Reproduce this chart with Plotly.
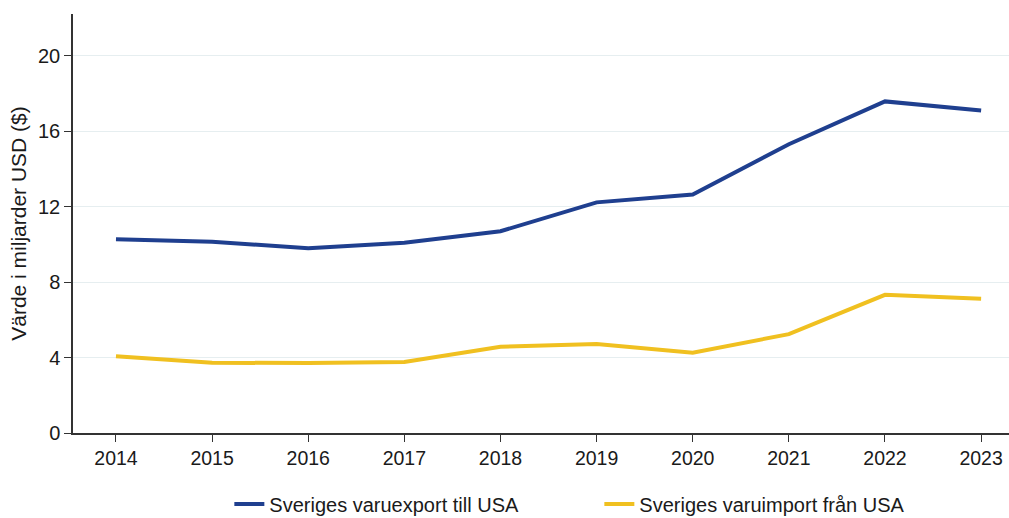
import plotly.graph_objects as go

years = [2014, 2015, 2016, 2017, 2018, 2019, 2020, 2021, 2022, 2023]
export_usa = [10.27, 10.13, 9.79, 10.08, 10.69, 12.22, 12.64, 15.3, 17.57, 17.09]
import_usa = [4.07, 3.72, 3.71, 3.76, 4.57, 4.71, 4.25, 5.24, 7.32, 7.11]

fig = go.Figure()
fig.add_trace(go.Scatter(x=years, y=export_usa, mode="lines",
                         name="Sveriges varuexport till USA",
                         line=dict(color="#1f3f8f", width=4)))
fig.add_trace(go.Scatter(x=years, y=import_usa, mode="lines",
                         name="Sveriges varuimport från USA",
                         line=dict(color="#f0c020", width=4)))

fig.update_layout(
    width=1009, height=518,
    margin=dict(l=73, r=0, t=14, b=85),
    paper_bgcolor="white", plot_bgcolor="white",
    font=dict(family="Liberation Sans, Arial, sans-serif", color="#1a1a1a", size=20),
    showlegend=True,
    legend=dict(orientation="h", xref="container", yref="container",
                x=0.594, xanchor="center", y=0.027, yanchor="middle",
                font=dict(size=20), entrywidth=325, entrywidthmode="pixels"),
    xaxis=dict(range=[2013.553, 2023.29], tickvals=years, ticktext=[str(y) for y in years],
               showline=True, linecolor="#333333", linewidth=1.5,
               ticks="outside", ticklen=7, tickcolor="#333333",
               showgrid=False, zeroline=False, tickfont=dict(size=19.5),
               automargin=False),
    yaxis=dict(range=[0, 22.2], tickvals=[0, 4, 8, 12, 16, 20],
               showline=True, linecolor="#333333", linewidth=1.5,
               ticks="outside", ticklen=7, tickcolor="#333333",
               showgrid=True, gridcolor="#e6eef0", gridwidth=1, zeroline=False,
               tickfont=dict(size=20), automargin=False,
               title=dict(text="Värde i miljarder USD ($)", font=dict(size=21), standoff=6)),
)

fig.write_html("out.html", config={"displayModeBar": False},
               post_script="document.body.style.margin='0';document.body.style.padding='0';")
